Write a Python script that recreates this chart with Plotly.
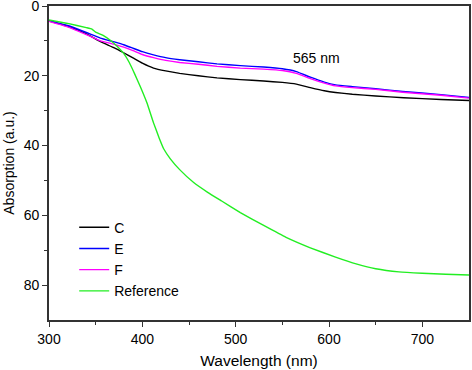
import plotly.graph_objects as go

wl_c = [300, 320, 340, 355, 370, 380, 390, 400, 412, 425, 440, 460, 480, 505, 530, 550, 565, 580, 595, 607, 625, 650, 680, 720, 750]
abs_c = [4.3, 5.8, 8.0, 10.2, 12.0, 13.4, 14.9, 16.4, 17.8, 18.6, 19.3, 20.0, 20.6, 21.1, 21.5, 21.9, 22.4, 23.4, 24.3, 24.8, 25.3, 25.8, 26.3, 26.8, 27.1]

wl_e = [300, 320, 340, 355, 370, 380, 390, 400, 412, 425, 440, 460, 480, 505, 530, 550, 565, 580, 595, 607, 625, 650, 679, 720, 750]
abs_e = [4.2, 5.6, 7.6, 9.2, 10.3, 11.1, 12.1, 13.1, 14.0, 14.8, 15.4, 16.0, 16.6, 17.1, 17.5, 18.0, 18.8, 20.4, 21.8, 22.6, 23.1, 23.7, 24.5, 25.4, 26.2]

wl_f = [300, 320, 340, 355, 370, 380, 390, 400, 412, 425, 440, 460, 480, 505, 530, 550, 565, 580, 595, 607, 625, 650, 679, 720, 750]
abs_f = [4.4, 6.0, 8.2, 10.0, 11.0, 11.8, 12.8, 13.9, 14.8, 15.6, 16.2, 16.7, 17.3, 17.8, 18.1, 18.5, 19.3, 20.8, 22.1, 22.9, 23.4, 23.9, 24.7, 25.6, 26.4]

wl_ref = [300, 320, 340, 346, 350, 358, 366, 374, 380, 386, 392, 398, 405, 412, 418, 423, 430, 440, 455, 470, 485, 505, 530, 554, 580, 607, 630, 650, 675, 700, 725, 750]
abs_ref = [4.0, 5.0, 6.2, 6.6, 7.5, 8.4, 9.9, 11.8, 13.6, 16.2, 19.6, 23.2, 27.8, 33.5, 37.8, 41.0, 43.8, 46.9, 50.6, 53.4, 55.9, 59.2, 62.9, 66.3, 69.3, 72.0, 74.0, 75.3, 76.2, 76.6, 76.9, 77.1]

series = [
    ("C", wl_c, abs_c, "black"),
    ("E", wl_e, abs_e, "#0000ff"),
    ("F", wl_f, abs_f, "#ff00ff"),
    ("Reference", wl_ref, abs_ref, "#22ee22"),
]

fig = go.Figure()
for name, x, y, col in series:
    fig.add_trace(go.Scatter(x=x, y=y, mode="lines", name=name,
                             line=dict(color=col, width=1.4, shape="spline", smoothing=0.3)))

FONT = "Liberation Sans, Arial"
axis_common = dict(showline=True, linecolor="#333333", linewidth=1.6, mirror=True,
                   ticks="outside", ticklen=5, tickwidth=1.4, tickcolor="#333333",
                   showgrid=False, zeroline=False, automargin=False,
                   ticklabeloverflow="allow",
                   tickfont=dict(family=FONT, size=14, color="black"))

fig.update_xaxes(range=[300, 750], tickvals=[300, 400, 500, 600, 700],
                 minor=dict(tickvals=[350, 450, 550, 650], ticks="outside", ticklen=3, tickcolor="#333333"),
                 title=dict(text="Wavelength (nm)", font=dict(family=FONT, size=15.5, color="black"), standoff=10),
                 **axis_common)
fig.update_yaxes(range=[90, 0], tickvals=[0, 20, 40, 60, 80],
                 minor=dict(tickvals=[10, 30, 50, 70], ticks="outside", ticklen=3, tickcolor="#333333"),
                 title=dict(text="Absorption (a.u.)", font=dict(family=FONT, size=14, color="black"), standoff=6),
                 **axis_common)

fig.add_annotation(x=587, y=15, text="565 nm", showarrow=False,
                   font=dict(family=FONT, size=14, color="black"))

fig.update_layout(
    width=472, height=370,
    margin=dict(l=49, r=3, t=6, b=50),
    plot_bgcolor="white", paper_bgcolor="white",
    legend=dict(x=0.06, y=0.345, xanchor="left", yanchor="top", bgcolor="rgba(0,0,0,0)",
                font=dict(family=FONT, size=14, color="black"),
                tracegroupgap=0),
)

fig.write_html("out.html", config={"displayModeBar": False},
               post_script="document.body.style.margin='0';document.body.style.overflow='hidden';")
